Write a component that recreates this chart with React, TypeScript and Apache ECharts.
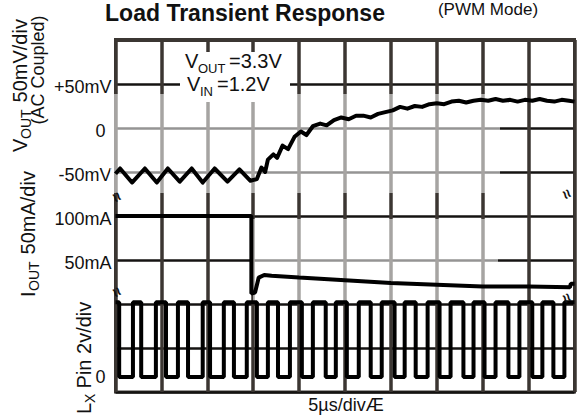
import React, { useEffect, useRef } from 'react';
import * as echarts from 'echarts';

// time axis: µs, 5µs/div, 10 divisions
const timeMin = 0;
const timeMax = 50;
const timeStep = 5;

// V_OUT (AC coupled), mV
const voutT = [0, 0.5, 1.8, 3.2, 4.5, 5.7, 7.0, 8.3, 9.5, 10.8, 12.2, 13.5, 14.7, 15.4, 15.9, 16.3, 16.6, 17.2, 17.6, 18.2, 18.8, 19.5, 20.2, 20.8, 21.5, 22.3, 23.0, 23.8, 24.6, 25.4, 26.2, 27.0, 27.8, 28.6, 29.4, 30.2, 31.0, 31.8, 32.6, 33.4, 34.2, 35.0, 35.8, 36.6, 37.4, 38.2, 39.0, 39.8, 40.6, 41.4, 42.2, 43.0, 43.8, 44.6, 45.4, 46.2, 47.0, 47.8, 48.6, 49.4, 50.0];
const voutMv = [-52, -46, -62, -46, -62, -46, -61, -46, -62, -46, -61, -47, -60, -58, -45, -50, -36, -30, -34, -20, -24, -10, -4, -8, 2, 5, 3, 9, 12, 10, 14, 14, 12, 16, 18, 20, 24, 22, 25, 24, 27, 28, 27, 30, 31, 29, 31, 32, 31, 33, 31, 32, 30, 32, 31, 33, 31, 30, 32, 31, 30];

// I_OUT, mA
const ioutT = [0, 14.8, 14.8, 15.2, 15.6, 16.2, 17.0, 20.0, 25.0, 30.0, 35.0, 40.0, 45.0, 49.5, 49.6, 50.0];
const ioutMa = [100, 100, 12, 13, 30, 33, 32, 30, 27, 24, 22, 20, 20, 19, 23, 23];

// Lx pin switching edges, µs
const lxFall = [0.4, 2.8, 5.5, 7.9, 10.3, 12.9, 15.4, 17.7, 20.3, 22.9, 25.2, 27.8, 30.4, 32.7, 35.3, 37.9, 40.2, 42.8, 45.4, 47.7];
const lxRise = [1.9, 4.4, 6.8, 9.5, 11.8, 14.3, 16.6, 19.0, 21.5, 24.0, 26.5, 29.0, 31.5, 34.0, 36.5, 39.0, 41.4, 44.0, 46.5, 48.9];
const lxHighV = 3.4;
const lxLowV = 0;

// tick labels
const voutTicks = [50, 0, -50];
const voutTickLabels = ['+50mV', '0', '-50mV'];
const ioutTicks = [100, 50];
const ioutTickLabels = ['100mA', '50mA'];
const lxTicks = [0];
const lxTickLabels = ['0'];

const FONT = '"Liberation Sans", Arial, Helvetica, sans-serif';
const GRID_DARK = '#3b3632';

function labelFor(ticks: number[], labels: string[]) {
  return (v: number) => {
    const i = ticks.indexOf(v);
    if (i < 0) return '';
    return labels[i] === '0' ? '{z|0}' : labels[i];
  };
}

function txt(x: number, y: number, text: string, size: number, extra: any = {}) {
  return {
    type: 'text',
    x,
    y,
    z: 10,
    style: {
      text,
      fontSize: size,
      fontFamily: FONT,
      fill: '#111',
      align: 'left',
      verticalAlign: 'middle',
      ...extra,
    },
  };
}

function rotLabel(x: number, y: number, main: string, sub: string, rest: string, mainW: number, subW: number) {
  return {
    type: 'group',
    x,
    y,
    rotation: Math.PI / 2,
    children: [
      txt(0, 0, main, 20),
      txt(mainW, 6, sub, 14),
      txt(mainW + subW, 0, rest, 20),
    ],
  };
}

function breakMark(x: number, y: number) {
  return {
    type: 'text',
    x,
    y,
    rotation: -Math.PI / 3,
    z: 10,
    style: {
      text: '≈',
      fontSize: 16,
      fontWeight: 'bold',
      fontFamily: FONT,
      fill: '#111',
      align: 'center',
      verticalAlign: 'middle',
    },
  };
}

export default function App() {
  const ref = useRef<HTMLDivElement>(null);

  useEffect(() => {
    if (!ref.current) return;
    const chart = echarts.init(ref.current, null, { renderer: 'svg' });

    const voutData = voutT.map((t, i) => [t, voutMv[i]]);
    const ioutData = ioutT.map((t, i) => [t, ioutMa[i]]);
    const lxData: number[][] = [[timeMin, lxHighV]];
    lxFall.forEach((f, i) => {
      lxData.push([f, lxHighV], [f, lxLowV], [lxRise[i], lxLowV], [lxRise[i], lxHighV]);
    });
    lxData.push([timeMax, lxHighV]);

    const labelStyle = {
      fontSize: 18,
      fontFamily: FONT,
      color: '#111',
      margin: 4,
      padding: [6, 0, 0, 0],
      rich: { z: { fontSize: 18, fontFamily: FONT, color: '#111', padding: [0, 6, 0, 0] } },
    };

    chart.setOption({
      animation: false,
      backgroundColor: '#fff',
      grid: {
        left: 115.5,
        top: 40,
        width: 459,
        height: 352,
        show: true,
        borderColor: GRID_DARK,
        borderWidth: 3,
        backgroundColor: 'transparent',
      },
      xAxis: {
        type: 'value',
        min: timeMin,
        max: timeMax,
        interval: timeStep,
        axisLine: { show: false },
        axisTick: { show: false },
        axisLabel: { show: false },
        splitLine: { show: true, lineStyle: { color: GRID_DARK, width: 3.5 } },
      },
      yAxis: [
        {
          type: 'value',
          position: 'left',
          min: -300,
          max: 100,
          interval: 50,
          axisLine: { show: false },
          axisTick: { show: false },
          splitLine: { show: true, lineStyle: { color: '#151312', width: 2.5 } },
          axisLabel: { ...labelStyle, customValues: voutTicks, formatter: labelFor(voutTicks, voutTickLabels) },
        },
        {
          type: 'value',
          position: 'left',
          offset: 0,
          min: -100,
          max: 300,
          axisLine: { show: false },
          axisTick: { show: false },
          splitLine: { show: false },
          axisLabel: { ...labelStyle, customValues: ioutTicks, formatter: labelFor(ioutTicks, ioutTickLabels) },
        },
        {
          type: 'value',
          position: 'left',
          offset: 0,
          min: -0.68,
          max: 15.32,
          axisLine: { show: false },
          axisTick: { show: false },
          splitLine: { show: false },
          axisLabel: { ...labelStyle, padding: [0, 0, 0, 0], customValues: lxTicks, formatter: labelFor(lxTicks, lxTickLabels) },
        },
      ],
      series: [
        {
          name: 'VOUT',
          type: 'line',
          yAxisIndex: 0,
          data: voutData,
          showSymbol: false,
          z: 5,
          lineStyle: { color: '#000', width: 4, join: 'round' },
        },
        {
          name: 'IOUT',
          type: 'line',
          yAxisIndex: 1,
          data: ioutData,
          showSymbol: false,
          z: 5,
          lineStyle: { color: '#000', width: 4 },
        },
        {
          name: 'LX',
          type: 'line',
          yAxisIndex: 2,
          data: lxData,
          showSymbol: false,
          z: 5,
          lineStyle: { color: '#000', width: 4 },
        },
      ],
      graphic: [
        // faded (washed-out) regions of the scanned grid
        { type: 'rect', z: 1, shape: { x: 110, y: 94, width: 390, height: 99 }, style: { fill: 'rgba(255,255,255,0.55)' } },
        { type: 'rect', z: 1, shape: { x: 253, y: 219, width: 245, height: 82 }, style: { fill: 'rgba(255,255,255,0.55)' } },
        // thicker top frame
        { type: 'rect', z: 1, shape: { x: 114, y: 38, width: 462, height: 4 }, style: { fill: GRID_DARK } },
        // annotation box
        { type: 'rect', z: 2, shape: { x: 180, y: 52, width: 110, height: 50 }, style: { fill: '#fff' } },
        txt(185, 61, 'V', 20),
        txt(198, 68, 'OUT', 13),
        txt(229, 61, '=3.3V', 20),
        txt(187, 84, 'V', 20),
        txt(200, 91, 'IN', 13),
        txt(217, 84, '=1.2V', 20),
        // titles
        { type: 'text', x: 245, y: 1, z: 10, style: { text: 'Load Transient Response', fontSize: 23, fontWeight: 'bold', fontFamily: FONT, fill: '#111', align: 'center', verticalAlign: 'top' } },
        { type: 'text', x: 488, y: 1, z: 10, style: { text: '(PWM Mode)', fontSize: 17, fontFamily: FONT, fill: '#111', align: 'center', verticalAlign: 'top' } },
        // rotated axis titles
        rotLabel(20, 152, 'V', 'OUT', ' 50mV/div', 13, 31),
        { type: 'text', x: 38, y: 70, rotation: Math.PI / 2, z: 10, style: { text: '(AC Coupled)', fontSize: 18, fontFamily: FONT, fill: '#111', align: 'center', verticalAlign: 'middle' } },
        rotLabel(28, 297, 'I', 'OUT', ' 50mA/div', 6, 31),
        rotLabel(84, 414, 'L', 'X', ' Pin 2v/div', 11, 9),
        // x-axis caption
        { type: 'text', x: 346, y: 405, z: 10, style: { text: '5µs/divÆ', fontSize: 18, fontFamily: FONT, fill: '#111', align: 'center', verticalAlign: 'middle' } },
        // break markers
        breakMark(117, 197),
        breakMark(567, 194),
        breakMark(117, 292),
        breakMark(567, 298),
      ],
    });

    return () => chart.dispose();
  }, []);

  return (
    <div
      ref={ref}
      style={{ position: 'fixed', left: 0, top: 0, width: 578, height: 417, background: '#fff' }}
    />
  );
}
